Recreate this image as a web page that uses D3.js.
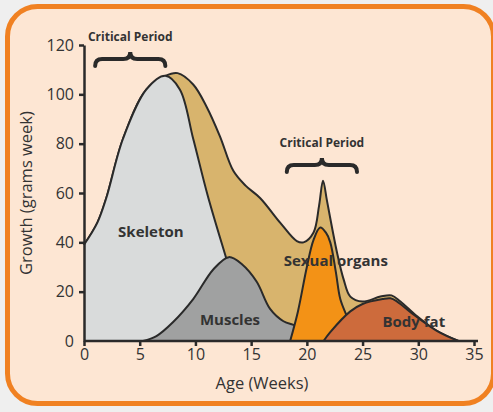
<!DOCTYPE html>
<html>
<head>
<meta charset="utf-8">
<script src="https://cdnjs.cloudflare.com/ajax/libs/d3/7.8.5/d3.min.js"></script>
<style>
  body { margin: 0; background: #efefef; }
  svg { display: block; }
  text { font-family: "Open Sans", sans-serif; fill: #333; }
</style>
</head>
<body>
<div id="chart"></div>
<script>
// DATA - [week, grams per week]
var envelope = [[0,39],[1.2,48],[2,58],[3.5,82],[5.6,102],[7.3,107.5],[8.4,108.6],[9.8,104],[11,95],[12.2,83],[13.4,69],[14.5,63],[15.8,58],[17.6,48],[19.1,40.5],[19.7,40],[20.6,44],[21.1,55],[21.45,65],[21.8,57],[22.3,45],[22.7,36],[23.3,25],[23.9,18],[25,16],[26.6,18],[27.6,18.5],[28.4,16],[29.9,10],[31.7,4],[33.6,0]];
var skeleton = [[0,39],[1.2,48],[2,58],[3.5,82],[5.6,102],[7.3,107.5],[8.6,102],[9.8,82],[11.1,59],[12.8,33],[14,15],[15,0]];
var muscles = [[5.3,0],[6.5,2],[8,7.7],[9.8,17],[11.6,29],[13,34],[14.2,31],[15.5,24],[16.7,13],[17.9,8],[19.1,6],[20,3],[21,0]];
var sexualOrgans = [[18.5,0],[19.2,12],[20,30],[20.6,41],[21.2,46],[21.7,44],[22.1,40],[22.6,28],[23,17],[23.6,10],[24.2,4],[25,0]];
var bodyFat = [[21.5,0],[22.1,3.6],[23.9,12],[25,15],[26.8,17],[27.5,17.3],[28.1,16],[29.5,11],[31.7,4],[33.6,0]];

var xTicks = [0, 5, 10, 15, 20, 25, 30, 35];
var yTicks = [0, 20, 40, 60, 80, 100, 120];

// critical periods: [start week, end week, growth level of the brace]
var criticalPeriods = [[1, 7.3, 111.5], [18.2, 24.5, 68.5]];

// labels: [text, week, growth]
var areaLabels = [["Skeleton", 6, 42], ["Muscles", 13.1, 6.5], ["Sexual organs", 22.6, 30.5], ["Body fat", 29.6, 5.5]];

var width = 493, height = 412;

var svg = d3.select('#chart').append('svg')
    .attr('width', width)
    .attr('height', height);

// card background
svg.append('rect')
    .attr('x', 7.5).attr('y', 6.5)
    .attr('width', 486).attr('height', 397)
    .attr('rx', 30).attr('ry', 30)
    .attr('fill', '#fde6d3')
    .attr('stroke', '#f08122')
    .attr('stroke-width', 5);

var x = d3.scaleLinear().domain([0, 35]).range([84, 474]);
var y = d3.scaleLinear().domain([0, 120]).range([341, 45]);

var area = d3.area()
    .x(function(d){ return x(d[0]); })
    .y0(y(0))
    .y1(function(d){ return y(d[1]); })
    .curve(d3.curveCatmullRom.alpha(0.5));

var line = d3.line()
    .x(function(d){ return x(d[0]); })
    .y(function(d){ return y(d[1]); })
    .curve(d3.curveCatmullRom.alpha(0.5));

// draw order: back to front
var layers = [
    { data: envelope, fill: '#d8b46d' },
    { data: skeleton, fill: '#d9dbdb' },
    { data: muscles, fill: '#a0a1a1' },
    { data: sexualOrgans, fill: '#f39216' },
    { data: bodyFat, fill: '#cd6b3c' }
];

layers.forEach(function(l){
    svg.append('path')
        .attr('d', area(l.data))
        .attr('fill', l.fill);
    svg.append('path')
        .attr('d', line(l.data))
        .attr('fill', 'none')
        .attr('stroke', '#2a2a2a')
        .attr('stroke-width', 2)
        .attr('stroke-linejoin', 'round');
});

// axes
var xAxis = svg.append('g')
    .attr('transform', 'translate(0,' + y(0) + ')')
    .call(d3.axisBottom(x).tickValues(xTicks).tickSize(5).tickPadding(3).tickSizeOuter(0));
xAxis.select('.domain').attr('d', 'M84,0H478');

var yAxis = svg.append('g')
    .attr('transform', 'translate(' + x(0) + ',0)')
    .call(d3.axisLeft(y).tickValues(yTicks).tickSize(5).tickPadding(5).tickSizeOuter(0));

svg.selectAll('.domain').attr('stroke', '#2a2a2a').attr('stroke-width', 2.5);
svg.selectAll('.tick line').attr('stroke', '#2a2a2a').attr('stroke-width', 2.5);
svg.selectAll('.tick text')
    .attr('fill', '#333')
    .style('font-family', '"Open Sans", sans-serif')
    .style('font-size', '16px');
yAxis.selectAll('.tick').filter(function(d){ return d === 0; }).select('line').remove();

// axis titles
svg.append('text')
    .attr('x', 262).attr('y', 389)
    .attr('text-anchor', 'middle')
    .style('font-size', '16.5px')
    .text('Age (Weeks)');

svg.append('text')
    .attr('transform', 'translate(32,193) rotate(-90)')
    .attr('text-anchor', 'middle')
    .style('font-size', '16.5px')
    .text('Growth (grams week)');

// area labels
areaLabels.forEach(function(a){
    svg.append('text')
        .attr('x', x(a[1])).attr('y', y(a[2]))
        .attr('text-anchor', 'middle')
        .style('font-size', '15px')
        .style('font-weight', 'bold')
        .text(a[0]);
});

// curly brace pointing up
function bracePath(x1, x2, yb, h){
    var mid = (x1 + x2) / 2, r = 7, hh = h / 2;
    return 'M' + x1 + ',' + yb +
        'Q' + x1 + ',' + (yb - hh) + ' ' + (x1 + r) + ',' + (yb - hh) +
        'L' + (mid - r) + ',' + (yb - hh) +
        'Q' + mid + ',' + (yb - hh) + ' ' + mid + ',' + (yb - h) +
        'Q' + mid + ',' + (yb - hh) + ' ' + (mid + r) + ',' + (yb - hh) +
        'L' + (x2 - r) + ',' + (yb - hh) +
        'Q' + x2 + ',' + (yb - hh) + ' ' + x2 + ',' + yb;
}

criticalPeriods.forEach(function(c){
    var x1 = x(c[0]), x2 = x(c[1]), yb = y(c[2]);
    svg.append('path')
        .attr('d', bracePath(x1, x2, yb, 14))
        .attr('fill', 'none')
        .attr('stroke', '#2a2a2a')
        .attr('stroke-width', 4)
        .attr('stroke-linecap', 'round');
    svg.append('text')
        .attr('x', (x1 + x2) / 2).attr('y', yb - 25)
        .attr('text-anchor', 'middle')
        .style('font-size', '12px')
        .style('font-weight', 'bold')
        .text('Critical Period');
});
</script>
</body>
</html>
